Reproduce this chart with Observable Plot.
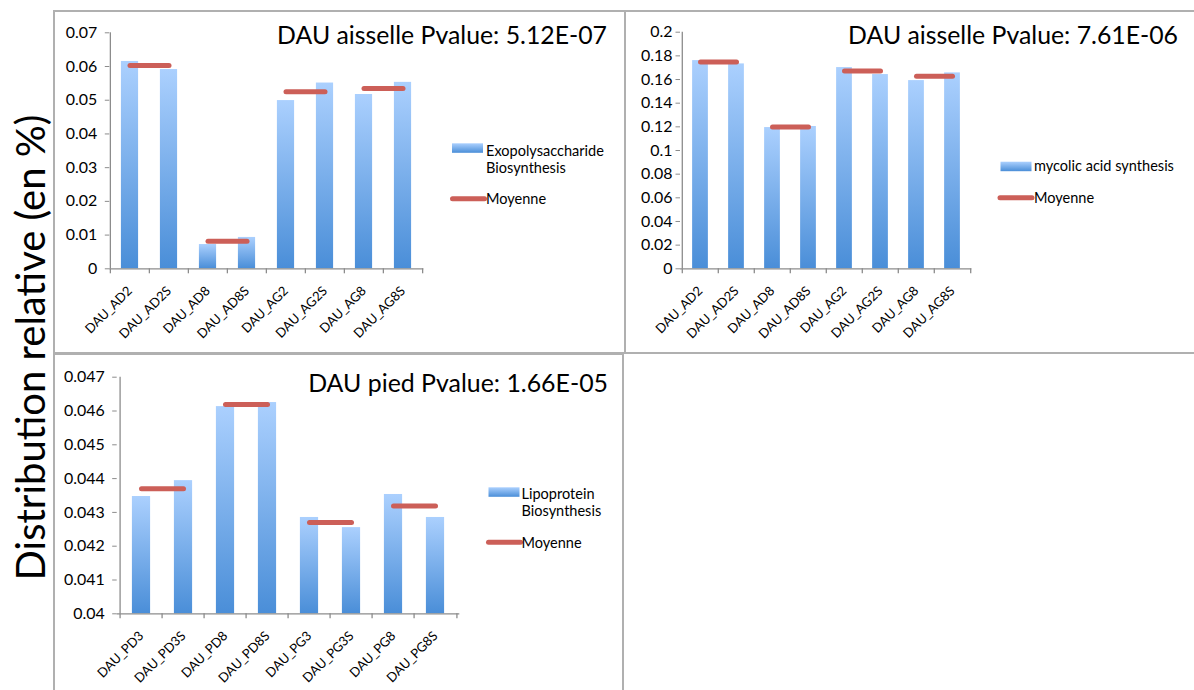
<!DOCTYPE html>
<html><head><meta charset="utf-8">
<script src="https://cdn.jsdelivr.net/npm/d3@7"></script>
<script src="https://cdn.jsdelivr.net/npm/@observablehq/plot@0.6"></script>
<style>
html,body{margin:0;padding:0;background:#fff;}
#root{position:relative;width:1194px;height:690px;overflow:hidden;font-family:Lato,sans-serif;}
.panel{position:absolute;border:2px solid #b0b0b0;box-sizing:border-box;}
</style></head><body><div id="root"></div>
<script>
// ---- data ----
const catsAisselle = ["DAU_AD2","DAU_AD2S","DAU_AD8","DAU_AD8S","DAU_AG2","DAU_AG2S","DAU_AG8","DAU_AG8S"];
const exoValues = [0.0615,0.0591,0.0072,0.0093,0.0499,0.0551,0.0517,0.0553];
const exoMeans = [0.0603,0.0082,0.0525,0.0535];
const exoTicks = [0,0.01,0.02,0.03,0.04,0.05,0.06,0.07];
const exoTickLabels = ["0","0.01","0.02","0.03","0.04","0.05","0.06","0.07"];

const mycolicValues = [0.1760,0.1732,0.1194,0.1203,0.1701,0.1642,0.1591,0.1656];
const mycolicMeans = [0.1749,0.1199,0.1671,0.1627];
const mycolicTicks = [0,0.02,0.04,0.06,0.08,0.1,0.12,0.14,0.16,0.18,0.2];
const mycolicTickLabels = ["0","0.02","0.04","0.06","0.08","0.1","0.12","0.14","0.16","0.18","0.2"];

const catsPied = ["DAU_PD3","DAU_PD3S","DAU_PD8","DAU_PD8S","DAU_PG3","DAU_PG3S","DAU_PG8","DAU_PG8S"];
const lipoValues = [0.04347,0.04394,0.04613,0.04625,0.04285,0.04255,0.04353,0.04285];
const lipoMeans = [0.04370,0.04619,0.04270,0.04319];
const lipoTicks = [0.04,0.041,0.042,0.043,0.044,0.045,0.046,0.047];
const lipoTickLabels = ["0.04","0.041","0.042","0.043","0.044","0.045","0.046","0.047"];

const titles = ["DAU aisselle Pvalue: 5.12E-07","DAU aisselle Pvalue: 7.61E-06","DAU pied Pvalue: 1.66E-05"];
const seriesNames = [["Exopolysaccharide","Biosynthesis"],["mycolic acid synthesis"],["Lipoprotein","Biosynthesis"]];
const meanName = "Moyenne";
const yTitle = "Distribution relative (en %)";

// ---- helpers ----
const FONT = "Lato";
const ctx = document.createElement("canvas").getContext("2d");
function fit(text, target){ ctx.font = "100px " + FONT; return 100*target/ctx.measureText(text).width; }
const axisFs = fit("0.07", 31.5);
const xFs = fit("DAU_AD2", 60);
const legFs = fit("Exopolysaccharide", 118);
const BAR_TOP = "#abd0fe", BAR_BOT = "#4a8ed8", RED = "#cc5f58", GRAY = "#8c8c8c";

const root = document.getElementById("root");

function addBorder(l,t,w,h){
  const d = document.createElement("div");
  d.className = "panel";
  Object.assign(d.style,{left:l+"px",top:t+"px",width:w+"px",height:h+"px"});
  root.appendChild(d);
}
addBorder(53,10,573,344);
addBorder(624,10,600,344);
addBorder(53,353,571,400);

function makePanel(cfg){
  const {left, top, width, height, mL, mR, mT, mB, cats, values, means, domain, ticks, labels, yPad, gid} = cfg;
  const step = (width - mL - mR)/cats.length;
  const inset = step*0.278;
  const base = domain[0];
  const rows = cats.map((c,i)=>({cat:c, v:values[i]}));
  const meanRows = means.flatMap((m,k)=>[{cat:cats[2*k], m, g:k},{cat:cats[2*k+1], m, g:k}]);
  const labelOf = new Map(ticks.map((t,i)=>[t, labels[i]]));
  const chart = Plot.plot({
    width, height, marginLeft:mL, marginRight:mR, marginTop:mT, marginBottom:mB,
    style:{fontFamily:FONT, color:"#000", background:"transparent", overflow:"visible"},
    x:{domain:cats, padding:0, label:null},
    y:{domain, label:null},
    marks:[
      Plot.barY(rows, {x:"cat", y1:()=>base, y2:"v", fill:`url(#${gid})`, insetLeft:inset, insetRight:inset}),
      Plot.ruleY([base], {stroke:GRAY, strokeWidth:1.3}),
      Plot.ruleX([cats[0]], {dx:-step/2, stroke:GRAY, strokeWidth:1.3}),
      Plot.ruleX(cats, {dx:-step/2, y1:()=>base, y2:()=>base, insetBottom:-5, stroke:GRAY, strokeWidth:1.3}),
      Plot.ruleX([cats[cats.length-1]], {dx:step/2, y1:()=>base, y2:()=>base, insetBottom:-5, stroke:GRAY, strokeWidth:1.3}),
      Plot.axisY({ticks, tickFormat:d=>labelOf.get(d), tickSize:4.5, tickPadding:yPad, stroke:GRAY, fill:"#000", fontSize:axisFs, anchor:"left", label:null}),
      Plot.axisX({tickSize:0, tickPadding:20, tickRotate:-45, fill:"#000", fontSize:xFs, anchor:"bottom", label:null}),
      Plot.line(meanRows, {x:"cat", y:"m", z:"g", stroke:RED, strokeWidth:5, strokeLinecap:"round"})
    ]
  });
  const g = d3.select(chart).insert("defs",":first-child").append("linearGradient")
    .attr("id",gid).attr("x1",0).attr("y1",0).attr("x2",0).attr("y2",1);
  g.append("stop").attr("offset","0%").attr("stop-color",BAR_TOP);
  g.append("stop").attr("offset","100%").attr("stop-color",BAR_BOT);
  Object.assign(chart.style,{position:"absolute", left:left+"px", top:top+"px", maxWidth:"none"});
  root.appendChild(chart);
}

makePanel({left:55, top:12, width:400, height:330, mL:54.3, mR:31.7, mT:20.3, mB:73.7,
  cats:catsAisselle, values:exoValues, means:exoMeans, domain:[0,0.07], ticks:exoTicks, labels:exoTickLabels, yPad:8, gid:"g1"});
makePanel({left:626, top:12, width:360, height:330, mL:54, mR:14.7, mT:19.7, mB:73.7,
  cats:catsAisselle, values:mycolicValues, means:mycolicMeans, domain:[0,0.2], ticks:mycolicTicks, labels:mycolicTickLabels, yPad:3.5, gid:"g2"});
makePanel({left:55, top:355, width:420, height:335, mL:61.7, mR:15.7, mT:21.7, mB:76.7,
  cats:catsPied, values:lipoValues, means:lipoMeans, domain:[0.04,0.047], ticks:lipoTicks, labels:lipoTickLabels, yPad:8, gid:"g3"});

// ---- overlay: titles and legends ----
const ov = d3.create("svg").attr("width",1194).attr("height",690)
  .style("position","absolute").style("left","0px").style("top","0px").style("font-family",FONT);
const defs = ov.append("defs").append("linearGradient").attr("id","gl").attr("x1",0).attr("y1",0).attr("x2",0).attr("y2",1);
defs.append("stop").attr("offset","0%").attr("stop-color",BAR_TOP);
defs.append("stop").attr("offset","100%").attr("stop-color",BAR_BOT);

const t1 = fit(titles[0], 330), t3 = fit(titles[2], 300);
ov.append("text").attr("x",607).attr("y",44).attr("text-anchor","end").attr("font-size",t1).text(titles[0]);
ov.append("text").attr("x",1178).attr("y",44).attr("text-anchor","end").attr("font-size",t1).text(titles[1]);
ov.append("text").attr("x",608).attr("y",391.5).attr("text-anchor","end").attr("font-size",t3).text(titles[2]);

const yt = fit(yTitle, 466);
ov.append("text").attr("transform","translate(45,347.5) rotate(-90)").attr("text-anchor","middle").attr("font-size",yt).text(yTitle);

function legend(sx, sy, lines, lineY, meanY, meanX, tx){
  ov.append("rect").attr("x",sx).attr("y",sy).attr("width",31).attr("height",9.5).attr("fill","url(#gl)");
  lines.forEach((s,i)=>ov.append("text").attr("x",tx).attr("y",lineY[i]).attr("font-size",legFs).text(s));
  ov.append("line").attr("x1",meanX).attr("x2",meanX+32).attr("y1",meanY).attr("y2",meanY)
    .attr("stroke",RED).attr("stroke-width",5).attr("stroke-linecap","round");
  ov.append("text").attr("x",tx).attr("y",meanY+5.5).attr("font-size",legFs).text(meanName);
}
legend(452,143.3,seriesNames[0],[155.5,173],198.7,452.5,486);
legend(1000.5,161.7,seriesNames[1],[171],197.8,1000,1034);
legend(488.5,487.3,seriesNames[2],[498.8,516.2],542.3,488.5,521.5);

root.appendChild(ov.node());
</script></body></html>
